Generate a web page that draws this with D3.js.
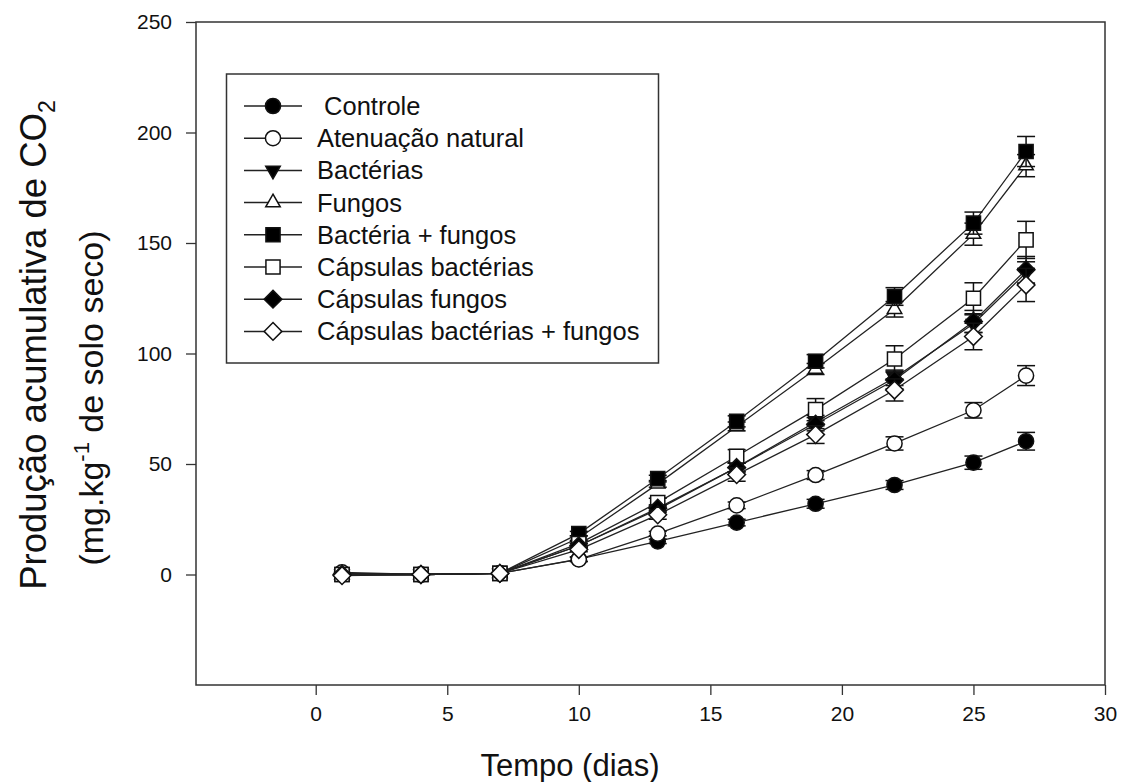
<!DOCTYPE html>
<html>
<head>
<meta charset="utf-8">
<script src="https://cdn.jsdelivr.net/npm/d3@7"></script>
<style>
  body { margin: 0; background: #fff; }
  text { font-family: Arial, "Liberation Sans", sans-serif; fill: #111; }
</style>
</head>
<body>
<div id="chart"></div>
<script>

// Data
const days = [1, 4, 7, 10, 13, 16, 19, 22, 25, 27];

const controle       = [0.5, 0, 0.5, 7, 15, 23.5, 32, 40.5, 50.6, 60.3];
const atenuacao      = [1, 0, 0.5, 6.8, 18.5, 31.3, 45, 59.3, 74.3, 90];
const bacterias      = [0, 0, 0.5, 13, 29.5, 48.5, 69, 89, 113.5, 136.5];
const fungos         = [0, 0, 0.5, 16.5, 41, 67, 93, 120, 154, 185];
const bactFungos     = [0, 0, 0.5, 18.5, 43.4, 69.3, 96.5, 125.8, 159, 191.4];
const capsBact       = [0, 0, 0.5, 14, 32.5, 53.5, 74.6, 97.5, 125, 151.4];
const capsFungos     = [0, 0, 0.5, 13, 30, 48.4, 68, 88, 114.5, 137.9];
const capsBactFungos = [-0.5, 0, 0.5, 11.3, 27, 45.2, 63.3, 83.5, 107.7, 131];

// standard errors
const errControle       = [0, 0, 0, 1, 1, 1.5, 2, 2, 3, 4];
const errAtenuacao      = [0, 0, 0, 1, 1, 1.5, 2, 3, 3.5, 4.5];
const errBacterias      = [0, 0, 0, 1, 1.5, 2, 3, 3.5, 4, 5];
const errFungos         = [0, 0, 0, 1, 1.5, 2, 2.5, 3.5, 5, 5];
const errBactFungos     = [0, 0, 0, 1, 1.5, 2.5, 3, 4, 5, 6.8];
const errCapsBact       = [0, 0, 0, 1, 2, 3, 5, 6, 7, 8.4];
const errCapsFungos     = [0, 0, 0, 1, 1.5, 2, 3, 4, 5, 6];
const errCapsBactFungos = [0, 0, 0, 1, 2, 3, 4, 5, 6, 7.5];

const seriesNames = [" Controle", "Atenuação natural", "Bactérias", "Fungos",
  "Bactéria + fungos", "Cápsulas bactérias", "Cápsulas fungos", "Cápsulas bactérias + fungos"];

const xTicks = [0, 5, 10, 15, 20, 25, 30];
const yTicks = [0, 50, 100, 150, 200, 250];

// marker type and fill for each series
const symbols = [
  {type: d3.symbolCircle, fill: "#000", size: 180},
  {type: d3.symbolCircle, fill: "#fff", size: 180},
  {type: d3.symbolTriangle2, fill: "#000", size: 150, flip: true},
  {type: d3.symbolTriangle2, fill: "#fff", size: 150},
  {type: d3.symbolSquare, fill: "#000", size: 200},
  {type: d3.symbolSquare, fill: "#fff", size: 200},
  {type: d3.symbolDiamond2, fill: "#000", size: 200},
  {type: d3.symbolDiamond2, fill: "#fff", size: 200}
];

const allValues = [controle, atenuacao, bacterias, fungos, bactFungos, capsBact, capsFungos, capsBactFungos];
const allErrors = [errControle, errAtenuacao, errBacterias, errFungos, errBactFungos, errCapsBact, errCapsFungos, errCapsBactFungos];

const series = seriesNames.map((name, s) => ({
  name: name,
  sym: symbols[s],
  points: days.map((d, i) => ({x: d, y: allValues[s][i], e: allErrors[s][i]}))
}));

// Dimensions
const width = 1125;
const height = 782;
const margin = {left: 196, right: 20, top: 22, bottom: 97};

const svg = d3.select("#chart")
  .append("svg")
  .attr("width", width)
  .attr("height", height);

const xScale = d3.scaleLinear()
  .domain([-4.55, 30])
  .range([margin.left, width - margin.right]);

const yScale = d3.scaleLinear()
  .domain([-50, 250])
  .range([height - margin.bottom, margin.top]);

// x axis, ticks outward
svg.append("g")
  .attr("transform", `translate(0,${height - margin.bottom})`)
  .call(d3.axisBottom(xScale).tickValues(xTicks).tickSize(10).tickPadding(11))
  .call(g => g.select(".domain").remove())
  .call(g => g.selectAll("line").attr("stroke", "#333").attr("stroke-width", 1.3))
  .call(g => g.selectAll("text").attr("font-size", "21px").attr("fill", "#111"));

// y axis
svg.append("g")
  .attr("transform", `translate(${margin.left},0)`)
  .call(d3.axisLeft(yScale).tickValues(yTicks).tickSize(10).tickPadding(14))
  .call(g => g.select(".domain").remove())
  .call(g => g.selectAll("line").attr("stroke", "#333").attr("stroke-width", 1.3))
  .call(g => g.selectAll("text").attr("font-size", "21px").attr("fill", "#111"));

// frame
svg.append("rect")
  .attr("x", margin.left)
  .attr("y", margin.top)
  .attr("width", width - margin.left - margin.right)
  .attr("height", height - margin.top - margin.bottom)
  .attr("fill", "none")
  .attr("stroke", "#333")
  .attr("stroke-width", 1.5);

// axis titles
svg.append("text")
  .attr("x", 570)
  .attr("y", 776)
  .attr("text-anchor", "middle")
  .attr("font-size", "31px")
  .text("Tempo (dias)");

const yTitle1 = svg.append("text")
  .attr("transform", "translate(46,345) rotate(-90)")
  .attr("text-anchor", "middle")
  .attr("font-size", "36.5px");
yTitle1.append("tspan").text("Produção acumulativa de CO");
yTitle1.append("tspan").attr("font-size", "23px").attr("dy", 9).text("2");

const yTitle2 = svg.append("text")
  .attr("transform", "translate(103,398) rotate(-90)")
  .attr("text-anchor", "middle")
  .attr("font-size", "34px");
yTitle2.append("tspan").text("(mg.kg");
yTitle2.append("tspan").attr("font-size", "22px").attr("dy", -14).text("-1");
yTitle2.append("tspan").attr("dy", 14).text(" de solo seco)");

const line = d3.line()
  .x(d => xScale(d.x))
  .y(d => yScale(d.y));

const symbolPath = (sym) => d3.symbol().type(sym.type).size(sym.size)();

// each series: line, error bars, markers
series.forEach(s => {
  const g = svg.append("g");

  g.append("path")
    .datum(s.points)
    .attr("d", line)
    .attr("fill", "none")
    .attr("stroke", "#222")
    .attr("stroke-width", 1.3);

  const bars = g.selectAll(".err")
    .data(s.points.filter(d => d.e > 0))
    .enter()
    .append("g")
    .attr("stroke", "#111")
    .attr("stroke-width", 1.5);
  bars.append("line")
    .attr("x1", d => xScale(d.x)).attr("x2", d => xScale(d.x))
    .attr("y1", d => yScale(d.y - d.e)).attr("y2", d => yScale(d.y + d.e));
  bars.append("line")
    .attr("x1", d => xScale(d.x) - 9).attr("x2", d => xScale(d.x) + 9)
    .attr("y1", d => yScale(d.y + d.e)).attr("y2", d => yScale(d.y + d.e));
  bars.append("line")
    .attr("x1", d => xScale(d.x) - 9).attr("x2", d => xScale(d.x) + 9)
    .attr("y1", d => yScale(d.y - d.e)).attr("y2", d => yScale(d.y - d.e));

  g.selectAll(".mark")
    .data(s.points)
    .enter()
    .append("path")
    .attr("d", symbolPath(s.sym))
    .attr("transform", d => `translate(${xScale(d.x)},${yScale(d.y)})` + (s.sym.flip ? " rotate(180)" : ""))
    .attr("fill", s.sym.fill)
    .attr("stroke", "#111")
    .attr("stroke-width", 1.5);
});

// legend
const legend = svg.append("g");
legend.append("rect")
  .attr("x", 226.5)
  .attr("y", 74)
  .attr("width", 432)
  .attr("height", 289)
  .attr("fill", "#fff")
  .attr("stroke", "#333")
  .attr("stroke-width", 1.5);

const rowY = i => 106 + i * 32.2;

const rows = legend.selectAll(".row")
  .data(series)
  .enter()
  .append("g")
  .attr("transform", (d, i) => `translate(0,${rowY(i)})`);

rows.append("line")
  .attr("x1", 244).attr("x2", 302)
  .attr("stroke", "#222")
  .attr("stroke-width", 1.5);

rows.append("path")
  .attr("d", d => symbolPath(d.sym))
  .attr("transform", d => "translate(273,0)" + (d.sym.flip ? " rotate(180)" : ""))
  .attr("fill", d => d.sym.fill)
  .attr("stroke", "#111")
  .attr("stroke-width", 1.5);

rows.append("text")
  .attr("x", 317)
  .attr("y", 9)
  .attr("font-size", "25.5px")
  .style("white-space", "pre")
  .text(d => d.name);

</script>
</body>
</html>
